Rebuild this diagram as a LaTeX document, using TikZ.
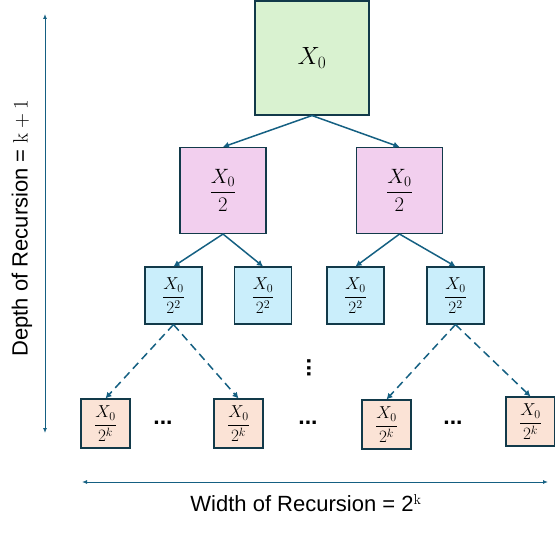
\documentclass[tikz,border=0pt]{standalone}
\usepackage[no-math]{fontspec}
\setmainfont{Liberation Sans}
\usetikzlibrary{arrows.meta}
\definecolor{edgeblue}{HTML}{156082}
\definecolor{boxline}{HTML}{123A4A}
\definecolor{gfill}{HTML}{D9F2D0}
\definecolor{pfill}{HTML}{F2CFEE}
\definecolor{bfill}{HTML}{CAEEFB}
\definecolor{ofill}{HTML}{FBE3D6}
\begin{document}
\begin{tikzpicture}[x=1pt,y=-1pt,
  box/.style={draw=boxline, line width=1.1pt, inner sep=0pt, minimum size=#1},
  topbox/.style={box=114pt, fill=gfill, font=\fontsize{26}{30}\selectfont},
  midbox/.style={box=86pt, fill=pfill, font=\fontsize{20}{24}\selectfont},
  lowbox/.style={box=57pt, fill=bfill, font=\fontsize{16.5}{19}\selectfont},
  leafbox/.style={box=49pt, fill=ofill, font=\fontsize{16.5}{19}\selectfont},
  conn/.style={draw=edgeblue, line width=1.5pt, -{Latex[length=6pt,width=6.5pt]}},
  dconn/.style={conn, dash pattern=on 8pt off 5pt},
  dimline/.style={draw=edgeblue, line width=0.9pt, {Latex[length=5pt,width=4pt]}-{Latex[length=5pt,width=4pt]}},
  lbl/.style={font=\fontsize{22}{26}\selectfont, inner sep=0pt},
  hdots/.style={font=\fontsize{23}{23}\selectfont\bfseries, inner sep=0pt}
]
\useasboundingbox (0,0) rectangle (555,535);

\node[topbox] (t) at (312,58) {$X_0$};

\node[midbox] (m1) at (223,190.5) {$\displaystyle\frac{X_0}{2}$};
\node[midbox] (m2) at (399.5,190.5) {$\displaystyle\frac{X_0}{2}$};

\node[lowbox] (a1) at (173.5,295.5) {$\displaystyle\frac{X_0}{2^2}$};
\node[lowbox] (a2) at (263,295.5) {$\displaystyle\frac{X_0}{2^2}$};
\node[lowbox] (a3) at (355.5,295.5) {$\displaystyle\frac{X_0}{2^2}$};
\node[lowbox] (a4) at (455.5,295.5) {$\displaystyle\frac{X_0}{2^2}$};

\node[leafbox] (b1) at (105.5,423.5) {$\displaystyle\frac{X_0}{2^k}$};
\node[leafbox] (b2) at (238.5,423.5) {$\displaystyle\frac{X_0}{2^k}$};
\node[leafbox] (b3) at (386.5,424.5) {$\displaystyle\frac{X_0}{2^k}$};
\node[leafbox] (b4) at (530.5,421.5) {$\displaystyle\frac{X_0}{2^k}$};

\node[hdots] (d1) at (163,423) {...};
\node[hdots] (d2) at (308,423) {...};
\node[hdots] (d3) at (453,423) {...};
\node[hdots, rotate=90] (dv) at (309,368) {...};

\draw[conn] (t.south) -- (m1.north);
\draw[conn] (t.south) -- (m2.north);
\draw[conn] (m1.south) -- (a1.north);
\draw[conn] (m1.south) -- (a2.north);
\draw[conn] (m2.south) -- (a3.north);
\draw[conn] (m2.south) -- (a4.north);
\draw[dconn] (a1.south) -- (b1.north);
\draw[dconn] (a1.south) -- (b2.north);
\draw[dconn] (a4.south) -- (b3.north);
\draw[dconn] (a4.south) -- (b4.north);

\coordinate (dtop) at (45,14);
\coordinate (dbot) at (45,433);
\draw[dimline] (dtop) -- (dbot);
\node[lbl, rotate=90] (dl) at (22,228) {Depth of Recursion = $\mathrm{k}+1$};

\coordinate (wl) at (82,482);
\coordinate (wr) at (548,482);
\draw[dimline] (wl) -- (wr);
\node[lbl] (wlab) at (306,503) {Width of Recursion = 2$^{\mathrm{k}}$};
\end{tikzpicture}
\end{document}
